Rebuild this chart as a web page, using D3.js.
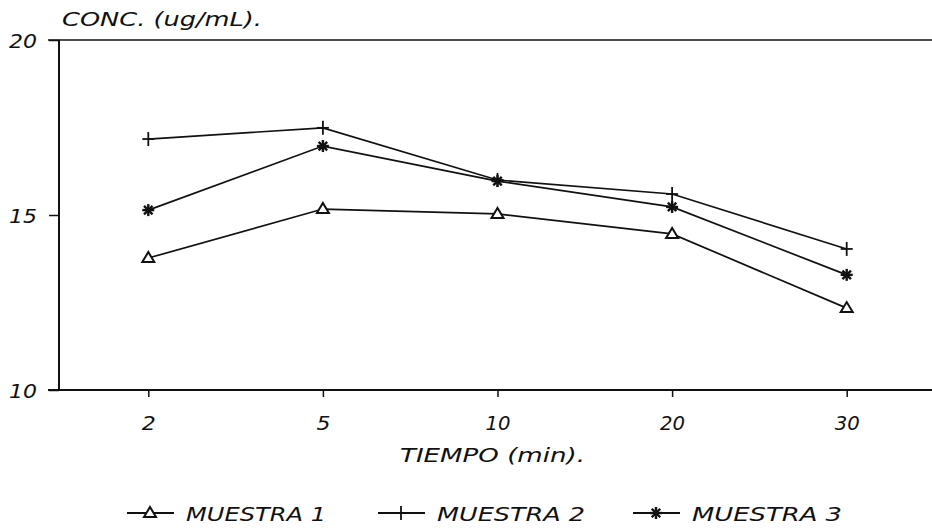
<!DOCTYPE html>
<html><head><meta charset="utf-8">
<script src="https://cdn.jsdelivr.net/npm/d3@7"></script>
<style>
body{margin:0;background:#fff;}
text{font-family:"DejaVu Sans",sans-serif;font-style:italic;fill:#111;}
</style></head>
<body><svg id="c" width="932" height="531"></svg>
<script>
const categories = ["2","5","10","20","30"];
const muestra1 = [13.77, 15.17, 15.03, 14.46, 12.34];
const muestra2 = [17.17, 17.49, 16.00, 15.60, 14.03];
const muestra3 = [15.14, 16.97, 15.97, 15.23, 13.29];
const seriesNames = ["MUESTRA 1", "MUESTRA 2", "MUESTRA 3"];
const markers = ["triangle", "plus", "star"];
const yTicks = [10, 15, 20];

const svg = d3.select("#c");
const x = d3.scalePoint().domain(categories).range([61, 934]).padding(0.5);
const y = d3.scaleLinear().domain([10, 20]).range([390, 40]);
const ink = "#111";

// frame lines
svg.append("line").attr("x1",48).attr("x2",932).attr("y1",y(20)).attr("y2",y(20)).attr("stroke",ink).attr("stroke-width",1.6);
svg.append("line").attr("x1",48).attr("x2",932).attr("y1",y(10)).attr("y2",y(10)).attr("stroke",ink).attr("stroke-width",2);
svg.append("line").attr("x1",59).attr("x2",59).attr("y1",y(20)).attr("y2",y(10)).attr("stroke",ink).attr("stroke-width",2);

// y axis ticks
const yAxis = d3.axisLeft(y).tickValues(yTicks).tickSize(10).tickPadding(8);
const gy = svg.append("g").attr("transform","translate(59,0)").call(yAxis);
gy.select(".domain").remove();
gy.selectAll(".tick line").attr("stroke",ink).attr("stroke-width",1.5);
gy.selectAll(".tick text").style("font-size","20px").attr("x",-22).attr("dy","0.36em")
  .attr("textLength",28).attr("lengthAdjust","spacingAndGlyphs").style("fill",ink);

// x axis
const xAxis = d3.axisBottom(x).tickSize(7).tickPadding(14);
const gx = svg.append("g").attr("transform",`translate(0,${y(10)})`).call(xAxis);
gx.select(".domain").remove();
gx.selectAll(".tick line").attr("stroke",ink).attr("stroke-width",1.5);
gx.selectAll(".tick text").style("font-size","20px").attr("dy","0.95em").style("fill",ink)
  .attr("textLength",d=>d.length>1?25:14).attr("lengthAdjust","spacingAndGlyphs");

// titles
svg.append("text").attr("x",62).attr("y",26).style("font-size","20px")
  .attr("textLength",200).attr("lengthAdjust","spacingAndGlyphs").text("CONC. (ug/mL).");
svg.append("text").attr("x",400).attr("y",462).style("font-size","20px")
  .attr("textLength",185).attr("lengthAdjust","spacingAndGlyphs").text("TIEMPO (min).");

function drawMarker(g, type, cx, cy){
  if(type==="triangle"){
    g.append("path").attr("d",`M${cx-6},${cy+4}L${cx+6},${cy+4}L${cx},${cy-6}Z`)
     .attr("fill","#fff").attr("stroke",ink).attr("stroke-width",2);
  } else if(type==="plus"){
    g.append("line").attr("x1",cx).attr("x2",cx).attr("y1",cy-7).attr("y2",cy+7).attr("stroke",ink).attr("stroke-width",1.8);
    g.append("line").attr("x1",cx-6).attr("x2",cx+6).attr("y1",cy).attr("y2",cy).attr("stroke",ink).attr("stroke-width",1.8);
  } else {
    const r=6;
    [0,45,90,135].forEach(a=>{
      const rad=a*Math.PI/180;
      g.append("line").attr("x1",cx-r*Math.cos(rad)).attr("x2",cx+r*Math.cos(rad))
       .attr("y1",cy-r*Math.sin(rad)).attr("y2",cy+r*Math.sin(rad)).attr("stroke",ink).attr("stroke-width",2.4);
    });
  }
}

const allSeries = [muestra1, muestra2, muestra3];
const line = d3.line().x((d,i)=>x(categories[i])).y(d=>y(d));
allSeries.forEach((vals,si)=>{
  svg.append("path").datum(vals).attr("d",line).attr("fill","none").attr("stroke",ink).attr("stroke-width",1.7);
});
allSeries.forEach((vals,si)=>{
  const g = svg.append("g");
  vals.forEach((v,i)=>drawMarker(g, markers[si], x(categories[i]), y(v)));
});

// legend
const legendX = [127, 378, 633];
const legendW = [140, 148, 150];
seriesNames.forEach((name,i)=>{
  const g = svg.append("g");
  const lx = legendX[i], ly = 513;
  g.append("line").attr("x1",lx).attr("x2",lx+47).attr("y1",ly).attr("y2",ly).attr("stroke",ink).attr("stroke-width",1.8);
  drawMarker(g, markers[i], lx+23, ly);
  g.append("text").attr("x",lx+59).attr("y",ly+8).style("font-size","20px")
   .attr("textLength",legendW[i]).attr("lengthAdjust","spacingAndGlyphs").text(name);
});
</script></body></html>
